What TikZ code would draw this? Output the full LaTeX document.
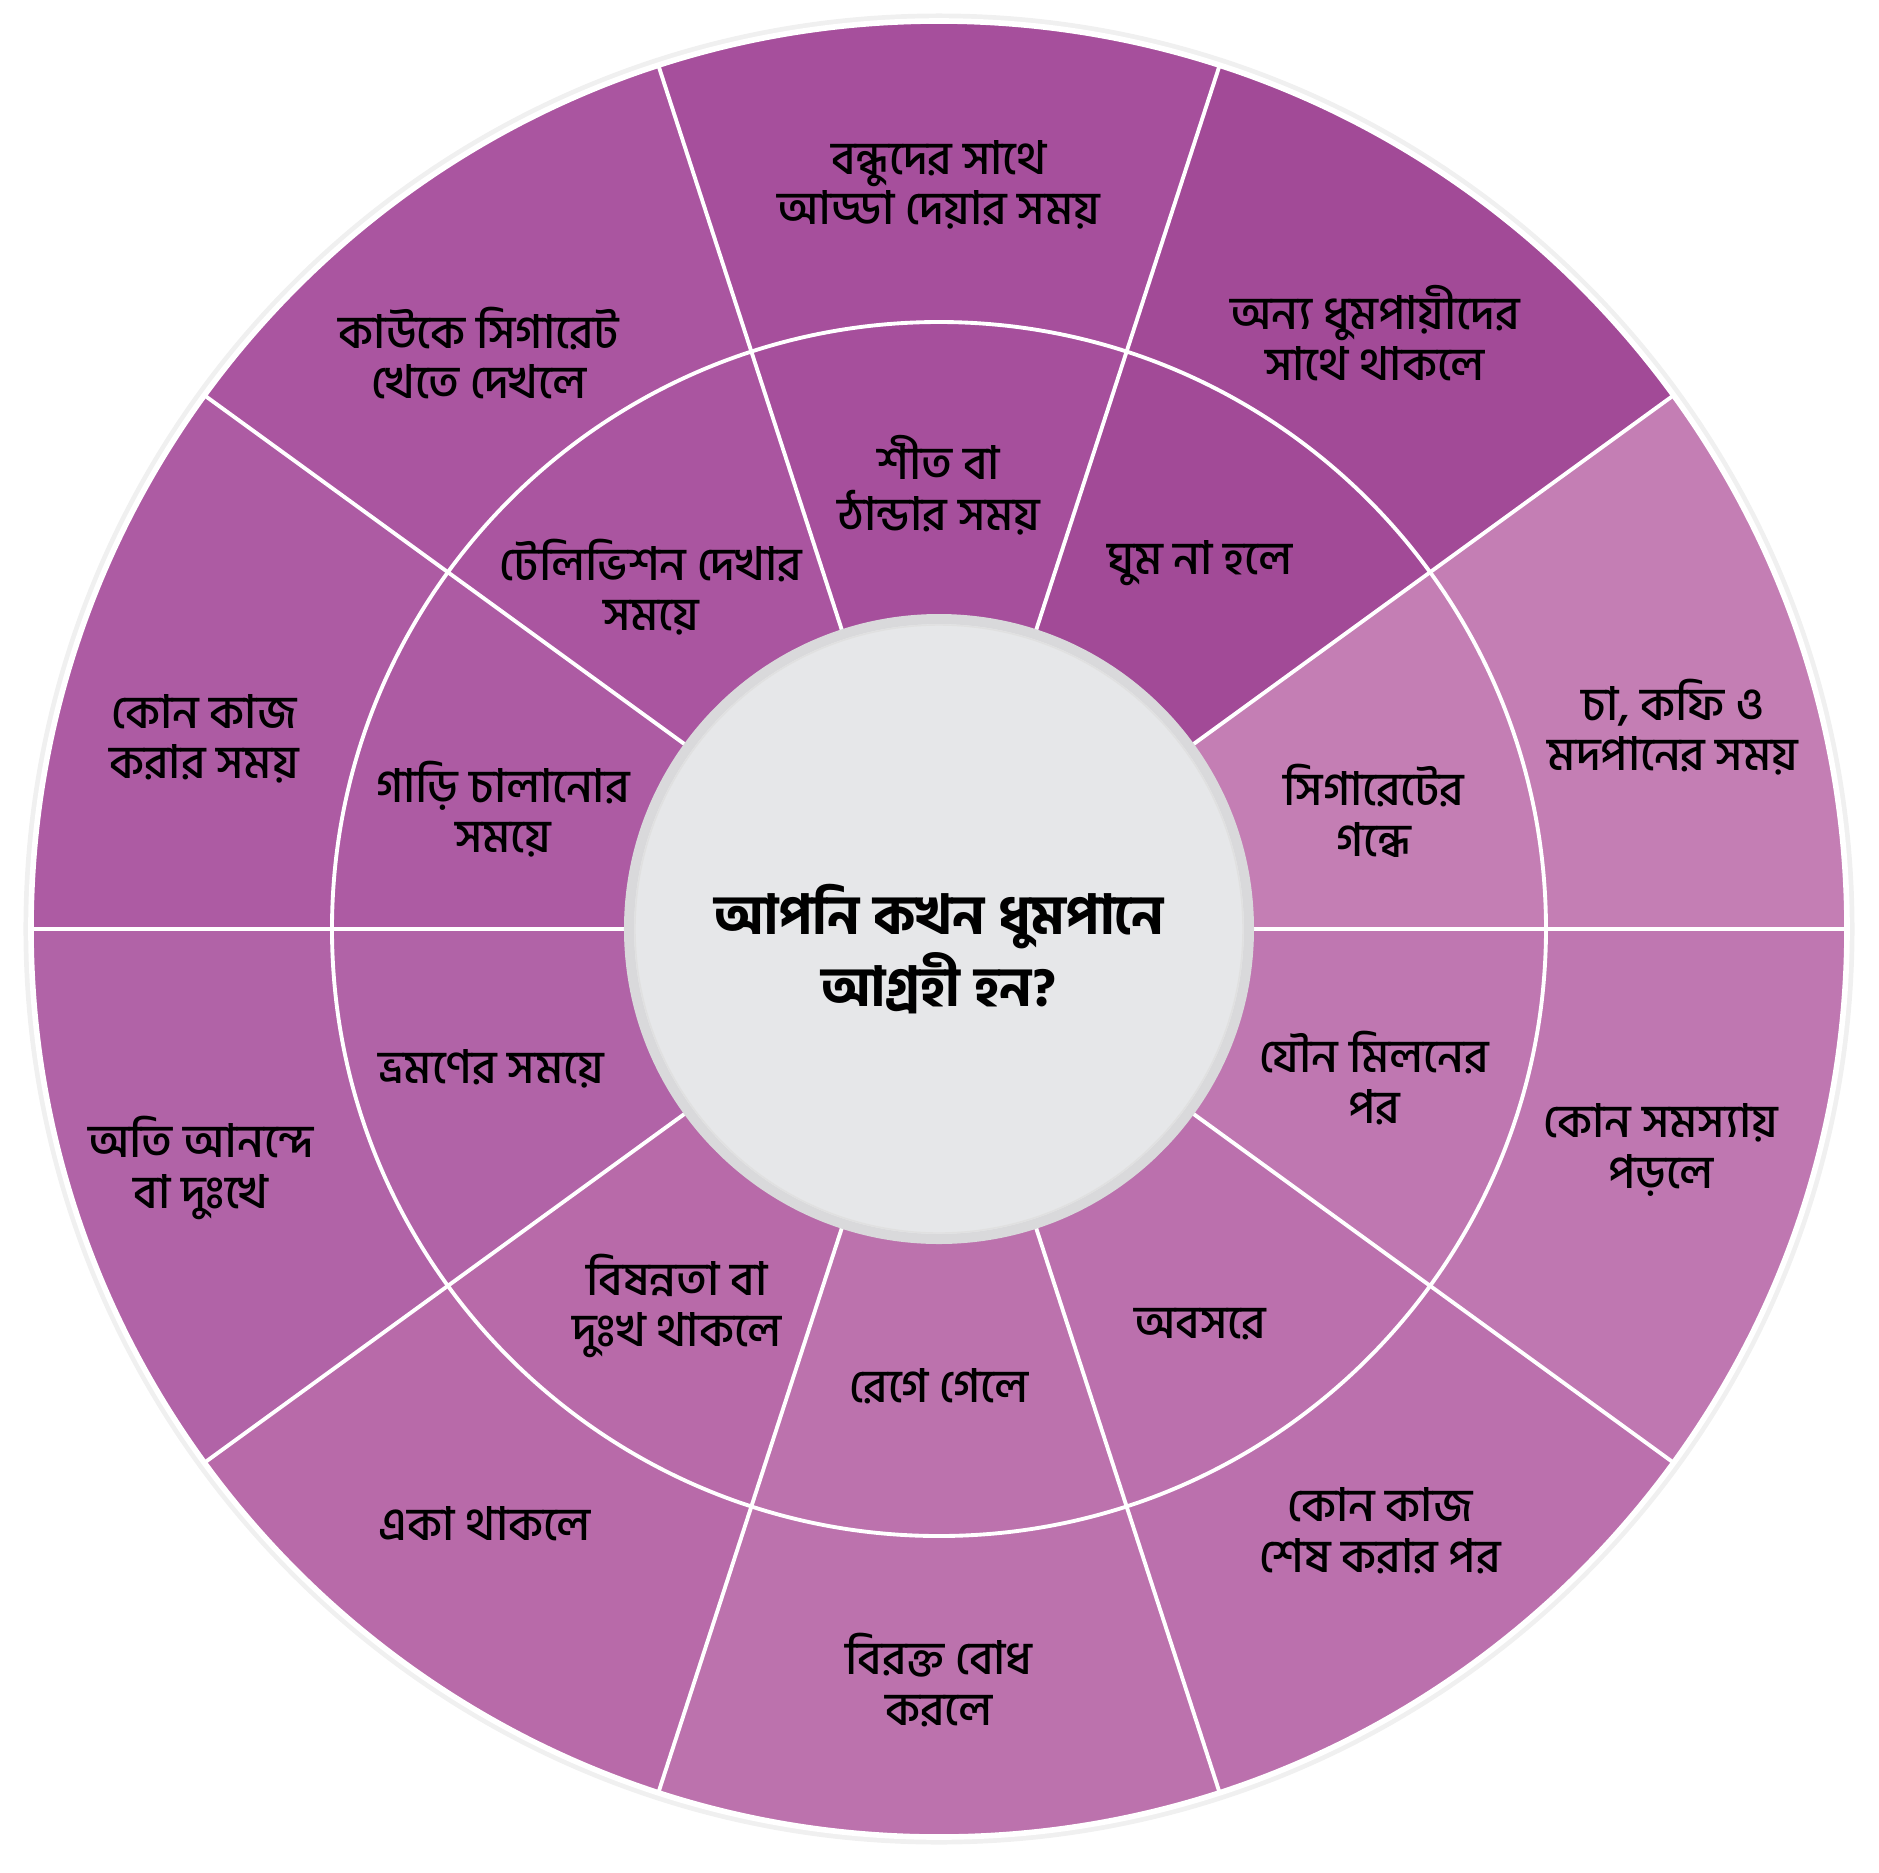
\documentclass[tikz,border=0pt]{standalone}
\usepackage{fontspec}
\usetikzlibrary{positioning}
\newfontfamily\bn[Script=Bengali]{Hind Siliguri Medium}
\newfontfamily\bnb[Script=Bengali]{Hind Siliguri Bold}

\definecolor{secA}{HTML}{C47EB4}
\definecolor{secB}{HTML}{A24A97}
\definecolor{secC}{HTML}{A64F9C}
\definecolor{secD}{HTML}{AA55A0}
\definecolor{secE}{HTML}{AD5BA3}
\definecolor{secF}{HTML}{B163A7}
\definecolor{secG}{HTML}{B86AA9}
\definecolor{secH}{HTML}{BC72AD}
\definecolor{secI}{HTML}{BB70AD}
\definecolor{secJ}{HTML}{BF77B1}
\definecolor{hubfill}{HTML}{E6E7E9}
\definecolor{hubring}{HTML}{D9D9DB}

\begin{document}
\begin{tikzpicture}[sep/.style={draw=white, line width=1.1pt},
    lbl/.style={align=center, inner sep=0pt, font=\bn\fontsize{13.2}{14.4}\selectfont},
    hub/.style={align=center, inner sep=0pt, font=\bnb\fontsize{15.5}{17}\selectfont}]
    \useasboundingbox (-9.39,-9.43) rectangle (9.40,9.29);
    % slices
    \foreach \c[count=\i from 0] in {secA,secB,secC,secD,secE,secF,secG,secH,secI,secJ}
    {
        \pgfmathsetmacro\a{36*\i}
        \fill[\c] (0,0) -- (\a:9.08) arc[start angle=\a, delta angle=36, radius=9.08] -- cycle;
    }
    \draw[black!6, line width=2pt] (0,0) circle (9.12);
    \draw[white, line width=1.6pt] (0,0) circle (9.08);
    \foreach \a in {0,36,...,324}
        \draw[sep] (\a:3.1) -- (\a:9.08);
    \draw[sep] (0,0) circle (6.07);
    % centre
    \draw[hubring, fill=hubfill, line width=0.1cm] (0,0) circle (3.10);
    \draw[black!12, line width=0.4pt] (0,0) circle (3.04);
    \node[hub] (q) at (0,-0.2) {আপনি কখন ধুমপানে\\আগ্রহী হন?};
    % inner ring
    \node[lbl] (in1) at (0,4.44) {শীত বা\\ঠান্ডার সময়};
    \node[lbl] (in2) at (2.61,3.66) {ঘুম না হলে};
    \node[lbl] (in3) at (4.35,1.18) {সিগারেটের\\গন্ধে};
    \node[lbl] (in4) at (4.35,-1.49) {যৌন মিলনের\\পর};
    \node[lbl] (in5) at (2.61,-3.95) {অবসরে};
    \node[lbl] (in6) at (0,-4.57) {রেগে গেলে};
    \node[lbl] (in7) at (-2.62,-3.77) {বিষন্নতা বা\\দুঃখ থাকলে};
    \node[lbl] (in8) at (-4.48,-1.40) {ভ্রমণের সময়ে};
    \node[lbl] (in9) at (-4.36,1.20) {গাড়ি চালানোর\\সময়ে};
    \node[lbl] (in10) at (-2.88,3.42) {টেলিভিশন দেখার\\সময়ে};
    % outer ring
    \node[lbl] (out1) at (0,7.44) {বন্ধুদের সাথে\\আড্ডা দেয়ার সময়};
    \node[lbl] (out2) at (4.36,5.96) {অন্য ধুমপায়ীদের\\সাথে থাকলে};
    \node[lbl] (out3) at (7.34,2.02) {চা, কফি ও\\মদপানের সময়};
    \node[lbl] (out4) at (7.22,-2.21) {কোন সমস্যায়\\পড়লে};
    \node[lbl] (out5) at (4.41,-6.02) {কোন কাজ\\শেষ করার পর};
    \node[lbl] (out6) at (0,-7.51) {বিরক্ত বোধ\\করলে};
    \node[lbl] (out7) at (-4.54,-5.95) {একা থাকলে};
    \node[lbl] (out8) at (-7.38,-2.39) {অতি আনন্দে\\বা দুঃখে};
    \node[lbl] (out9) at (-7.35,1.90) {কোন কাজ\\করার সময়};
    \node[lbl] (out10) at (-4.60,5.76) {কাউকে সিগারেট\\খেতে দেখলে};
\end{tikzpicture}
\end{document}
